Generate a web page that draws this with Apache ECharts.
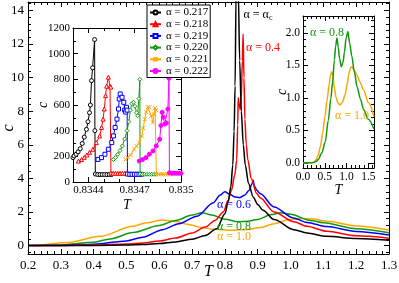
<!DOCTYPE html>
<html><head><meta charset="utf-8">
<script src="https://cdn.jsdelivr.net/npm/echarts@6/dist/echarts.min.js"></script>
<style>html,body{margin:0;padding:0;background:#fff}#c{width:399px;height:283px}</style>
</head><body><div id="c"></div>
<script>
// ---------- tick labels ----------
const mainXTicks = [0.2,0.3,0.4,0.5,0.6,0.7,0.8,0.9,1.0,1.1,1.2,1.3];
const mainYTicks = [0,2,4,6,8,10,12,14];
const in1XTicks = [0.8344,0.8347,0.835];
const in1YTicks = [0,200,400,600,800,1000,1200];
const in2XTicks = [0,0.5,1.0,1.5];
const in2YTicks = [0,0.5,1.0,1.5,2.0];

// ---------- main chart series (T, c) ----------
const mainBlack = [[0.2,0],[0.3,0.003],[0.4,0.01],[0.5,0.03],[0.55,0.06],[0.6,0.12],[0.65,0.22],[0.7,0.38],[0.74,0.6],[0.775,1.0],[0.8,1.9],[0.81,2.6],[0.818,3.5],[0.824,4.8],[0.828,6.8],[0.831,9.5],[0.834,15],[0.836,20],[0.838,20],[0.841,15],[0.845,11],[0.85,8],[0.856,6],[0.862,4.8],[0.872,3.7],[0.886,2.9],[0.9,2.45],[0.916,2.1],[0.95,1.55],[1.01,0.95],[1.05,0.75],[1.11,0.55],[1.2,0.42],[1.3,0.32]];
const mainRed = [[0.2,0],[0.3,0.005],[0.4,0.03],[0.5,0.09],[0.55,0.16],[0.6,0.27],[0.65,0.45],[0.7,0.75],[0.74,1.1],[0.77,1.5],[0.795,2.0],[0.81,2.7],[0.82,3.3],[0.83,4.2],[0.836,5.1],[0.839,7.2],[0.8405,8.8],[0.843,8.5],[0.8465,8.1],[0.85,8.8],[0.853,11],[0.8555,12.6],[0.858,10],[0.861,7.5],[0.865,6.0],[0.87,5.1],[0.88,4.0],[0.897,3.1],[0.907,2.85],[0.95,2.0],[1.01,1.42],[1.05,1.15],[1.11,0.85],[1.2,0.58],[1.3,0.44]];
const mainBlue = [[0.2,0],[0.3,0.01],[0.4,0.08],[0.5,0.28],[0.55,0.5],[0.61,0.95],[0.66,1.3],[0.715,1.75],[0.765,2.55],[0.785,3.0],[0.8,3.2],[0.815,3.05],[0.83,2.9],[0.845,2.85],[0.86,3.0],[0.874,3.3],[0.882,3.65],[0.886,3.9],[0.89,3.55],[0.897,3.3],[0.907,3.1],[0.95,2.3],[1.008,1.65],[1.05,1.38],[1.11,1.13],[1.2,0.84],[1.3,0.63]];
const mainGreen = [[0.2,0],[0.3,0.04],[0.4,0.2],[0.45,0.4],[0.52,0.78],[0.6,1.2],[0.65,1.5],[0.7,1.82],[0.73,1.96],[0.76,1.82],[0.8,1.57],[0.84,1.42],[0.87,1.45],[0.9,1.56],[0.94,1.83],[0.97,1.96],[1.0,1.86],[1.06,1.5],[1.1,1.36],[1.2,1.0],[1.3,0.77]];
const mainOrange = [[0.2,0],[0.22,0.01],[0.32,0.18],[0.42,0.55],[0.52,1.15],[0.56,1.36],[0.61,1.52],[0.65,1.44],[0.685,1.27],[0.73,1.08],[0.765,0.97],[0.82,0.92],[0.87,0.96],[0.907,1.07],[0.95,1.3],[0.99,1.52],[1.03,1.62],[1.07,1.58],[1.11,1.45],[1.2,1.17],[1.3,0.93]];

// ---------- inset 1 series (T, c) ----------
const a217 = [[0.8343,190],[0.834307,203],[0.83432,216],[0.834333,235],[0.834347,260],[0.83436,300],[0.834373,350],[0.834387,410],[0.834397,470],[0.834407,540],[0.834413,600],[0.83442,790],[0.834427,890],[0.83444,1110],[0.834442,400],[0.834445,62],[0.83446,58],[0.834475,58],[0.83449,58],[0.834505,58],[0.83452,58],[0.834535,58],[0.83455,58]];
const a218 = [[0.834335,163],[0.834355,175],[0.834373,192],[0.83439,210],[0.834407,231],[0.834429,255],[0.834451,307],[0.834473,359],[0.834485,425],[0.834495,490],[0.834503,569],[0.834511,673],[0.834518,747],[0.834529,817],[0.83454,747],[0.834545,740],[0.834546,70],[0.83456,68],[0.834575,68],[0.83459,68],[0.834605,68],[0.83462,68],[0.834635,68],[0.83465,68]];
const a219 = [[0.834462,176],[0.834485,190],[0.834507,216],[0.834529,255],[0.834551,307],[0.834562,359],[0.834573,425],[0.834585,490],[0.834595,569],[0.8346,647],[0.834606,686],[0.834618,660],[0.834629,621],[0.834635,560],[0.834642,545],[0.834647,582],[0.834651,560],[0.834653,62],[0.834668,60],[0.834683,60],[0.834698,60],[0.834713,60],[0.834728,60],[0.834743,60]];
const a220 = [[0.834562,175],[0.834575,190],[0.83459,215],[0.834605,245],[0.83462,280],[0.834635,335],[0.83465,400],[0.834662,470],[0.834672,560],[0.834682,610],[0.834692,622],[0.834702,590],[0.834712,540],[0.834719,516],[0.834727,650],[0.834733,800],[0.834735,62],[0.83475,60],[0.834765,60],[0.83478,60],[0.834795,60],[0.83481,60],[0.834825,60],[0.83484,60]];
const a221 = [[0.83464,175],[0.834655,190],[0.834673,210],[0.834695,255],[0.834712,280],[0.834729,307],[0.834745,360],[0.834755,420],[0.834765,490],[0.834775,545],[0.834785,582],[0.834795,582],[0.834807,516],[0.834818,464],[0.834825,529],[0.834832,575],[0.834838,560],[0.83484,62],[0.834855,60],[0.83487,60],[0.834885,60],[0.8349,60],[0.834915,60],[0.83493,60]];
const a222 = [[0.834729,163],[0.834751,175],[0.834773,190],[0.834795,216],[0.834818,242],[0.83484,281],[0.834862,333],[0.83487,440],[0.834878,543],[0.834885,504],[0.834895,451],[0.834905,460],[0.834915,569],[0.834922,809],[0.834925,72],[0.83494,68],[0.834955,68],[0.83497,68],[0.834985,68],[0.835,68],[0.835015,68]];

// ---------- inset 2 series (T, c) ----------
const in2Green = [[0,0],[0.2,0],[0.25,0.005],[0.3,0.02],[0.35,0.05],[0.43,0.15],[0.51,0.32],[0.58,0.65],[0.64,0.99],[0.68,1.25],[0.72,1.58],[0.75,1.8],[0.78,1.92],[0.81,1.78],[0.84,1.6],[0.88,1.48],[0.92,1.55],[0.95,1.7],[0.99,1.92],[1.03,2.02],[1.07,1.85],[1.12,1.64],[1.18,1.4],[1.24,1.17],[1.32,0.98],[1.39,0.82],[1.5,0.67],[1.63,0.52]];
const in2Orange = [[0,0],[0.2,0],[0.25,0.01],[0.3,0.05],[0.35,0.12],[0.4,0.25],[0.45,0.45],[0.5,0.7],[0.55,0.95],[0.6,1.2],[0.63,1.35],[0.66,1.4],[0.69,1.32],[0.72,1.15],[0.76,1.0],[0.8,0.92],[0.85,0.89],[0.9,0.93],[0.97,1.05],[1.01,1.2],[1.05,1.36],[1.09,1.46],[1.12,1.48],[1.17,1.43],[1.24,1.35],[1.3,1.25],[1.39,1.12],[1.5,0.93],[1.63,0.71]];

const SERIF = 'Liberation Serif, Times New Roman, serif';
const C = {black:'#000000', red:'#ff0000', blue:'#0000ff', green:'#119911', orange:'#ffa500', magenta:'#ff00ff'};

function minorTicks(min, max, step, majors) {
  const out = [];
  const k0 = Math.ceil(min / step - 1e-9), k1 = Math.floor(max / step + 1e-9);
  for (let k = k0; k <= k1; k++) {
    const v = +(k * step).toFixed(8);
    if (!majors.some(m => Math.abs(m - v) < step * 1e-3)) out.push(v);
  }
  return out;
}

function axisSet(dim, gi, min, max, majors, minors, fmt, fs, margin, name, nameGap, nameSize, z) {
  const sides = dim === 'x' ? ['bottom','top'] : ['left','right'];
  const base = {gridIndex: gi, type: 'value', min: min, max: max, z: z,
    splitLine: {show: false}, minorTick: {show: false}, silent: true};
  const res = [];
  res.push(Object.assign({}, base, {position: sides[0],
    axisLine: {show: true, onZero: false, lineStyle: {color: '#000', width: 1}},
    axisTick: {show: true, inside: true, length: 5, customValues: majors, lineStyle: {color: '#000', width: 1}},
    axisLabel: {show: true, customValues: majors, formatter: fmt, color: '#000', fontFamily: SERIF, fontSize: fs, margin: margin},
    name: name, nameLocation: 'middle', nameGap: nameGap, nameMoveOverlap: false,
    nameTextStyle: {fontFamily: SERIF, fontStyle: 'italic', fontSize: nameSize, color: '#000'}}));
  res.push(Object.assign({}, base, {position: sides[1],
    axisLine: {show: true, onZero: false, lineStyle: {color: '#000', width: 1}},
    axisTick: {show: true, inside: true, length: 5, customValues: majors, lineStyle: {color: '#000', width: 1}},
    axisLabel: {show: false}}));
  res.push(Object.assign({}, base, {position: sides[0],
    axisLine: {show: false, onZero: false},
    axisTick: {show: true, inside: true, length: 3, customValues: minors, lineStyle: {color: '#000', width: 1}},
    axisLabel: {show: false}}));
  res.push(Object.assign({}, base, {position: sides[1],
    axisLine: {show: false, onZero: false},
    axisTick: {show: true, inside: true, length: 3, customValues: minors, lineStyle: {color: '#000', width: 1}},
    axisLabel: {show: false}}));
  return res;
}

const xAxes = [].concat(
  axisSet('x', 0, 0.2, 1.3, mainXTicks, minorTicks(0.2, 1.3, 0.02, mainXTicks), v => v.toFixed(1), 13, 5, 'T', 10, 16, 1),
  axisSet('x', 1, 0.8343, 0.835, in1XTicks, minorTicks(0.8343, 0.835, 0.0001, in1XTicks), v => String(+v.toFixed(4)), 11, 3, 'T', 16, 14, 6),
  axisSet('x', 2, 0, 1.63, in2XTicks, minorTicks(0, 1.63, 0.1, in2XTicks), v => v.toFixed(1), 11.5, 3, 'T', 15, 14, 6)
);
const yAxes = [].concat(
  axisSet('y', 0, -0.5, 14.5, mainYTicks, minorTicks(-0.5, 14.5, 0.4, mainYTicks), v => String(Math.round(v)), 13, 4, 'c', 11, 16, 1),
  axisSet('y', 1, 0, 1200, in1YTicks, minorTicks(0, 1200, 100, in1YTicks), v => String(Math.round(v)), 11, 3, 'c', 23, 14, 6),
  axisSet('y', 2, -0.08, 2.26, in2YTicks, minorTicks(-0.08, 2.26, 0.1, in2YTicks), v => v.toFixed(1), 11.5, 3, 'c', 14, 14, 6)
);

function mainLine(name, data, color) {
  return {name: name, type: 'line', data: data, xAxisIndex: 0, yAxisIndex: 0, showSymbol: false, symbol: 'none',
    smooth: 0.3, smoothMonotone: 'x', lineStyle: {color: color, width: 1.5}, itemStyle: {color: color}, z: 2, silent: true, animation: false};
}
function in1Line(name, data, color, symbol, filled) {
  return {name: name, type: 'line', data: data, xAxisIndex: 4, yAxisIndex: 4, symbol: symbol, symbolSize: 4, showSymbol: true,
    lineStyle: {color: color, width: 1}, itemStyle: {color: filled ? color : '#fff', borderColor: color, borderWidth: 1},
    z: 7, silent: true, animation: false};
}
function in2Line(name, data, color) {
  return {name: name, type: 'line', data: data, xAxisIndex: 8, yAxisIndex: 8, showSymbol: false, symbol: 'none',
    smooth: 0.3, smoothMonotone: 'x', lineStyle: {color: color, width: 1.5}, itemStyle: {color: color}, z: 7, silent: true, animation: false};
}

const XMARK = 'path://M0,0L10,10M10,0L0,10';
const series = [
  mainLine('main 1.0', mainOrange, C.orange),
  mainLine('main 0.8', mainGreen, C.green),
  mainLine('main 0.6', mainBlue, C.blue),
  mainLine('main 0.4', mainRed, C.red),
  mainLine('main c', mainBlack, C.black),
  in1Line('α = 0.217', a217, C.black, 'circle', false),
  in1Line('α = 0.218', a218, C.red, 'triangle', false),
  in1Line('α = 0.219', a219, C.blue, 'rect', false),
  in1Line('α = 0.220', a220, C.green, 'diamond', false),
  in1Line('α = 0.221', a221, C.orange, XMARK, true),
  in1Line('α = 0.222', a222, C.magenta, 'circle', true),
  in2Line('in2 1.0', in2Orange, C.orange),
  in2Line('in2 0.8', in2Green, C.green)
];

function label(text, x, y, color, rich) {
  const st = {text: text, x: x, y: y, fill: color, fontFamily: SERIF, fontSize: 12, align: 'center', verticalAlign: 'middle'};
  if (rich) st.rich = rich;
  return {type: 'text', z: 20, silent: true, style: st};
}

const chart = echarts.init(document.getElementById('c'), null, {renderer: 'canvas'});
chart.setOption({
  animation: false,
  backgroundColor: '#fff',
  grid: [
    {left: 28, top: 2, width: 361, height: 252, z: 0, show: false, outerBoundsMode: 'none', containLabel: false},
    {left: 73, top: 28, width: 108, height: 154, z: 5, show: true, backgroundColor: '#fff', borderWidth: 0, outerBoundsMode: 'none', containLabel: false},
    {left: 303, top: 16, width: 71, height: 152, z: 5, show: true, backgroundColor: '#fff', borderWidth: 0, outerBoundsMode: 'none', containLabel: false}
  ],
  xAxis: xAxes,
  yAxis: yAxes,
  legend: {
    data: ['α = 0.217','α = 0.218','α = 0.219','α = 0.220','α = 0.221','α = 0.222'],
    left: 147, top: 5, orient: 'vertical', itemGap: 0.7, itemWidth: 11, itemHeight: 5, itemTextGap: 3,
    padding: [2, 2, 1, 2], backgroundColor: '#fff', borderColor: '#000', borderWidth: 1, borderRadius: 0,
    selectedMode: false, z: 15,
    textStyle: {fontFamily: SERIF, fontSize: 11, color: '#000', lineHeight: 10}
  },
  graphic: [
    label('{a|α = α}{s|c}', 258, 15, '#000', {a: {fontFamily: SERIF, fontSize: 12, fill: '#000'}, s: {fontFamily: SERIF, fontSize: 8, fill: '#000', verticalAlign: 'bottom', padding: [5, 0, 0, 0]}}),
    label('α = 0.4', 263, 48, C.red),
    label('α = 0.6', 234, 205, C.blue),
    label('α = 0.8', 234, 227, C.green),
    label('α = 1.0', 234, 237, C.orange),
    label('α = 0.8', 327, 33, C.green),
    label('α = 1.0', 352, 116, C.orange)
  ],
  series: series
});
</script></body></html>
